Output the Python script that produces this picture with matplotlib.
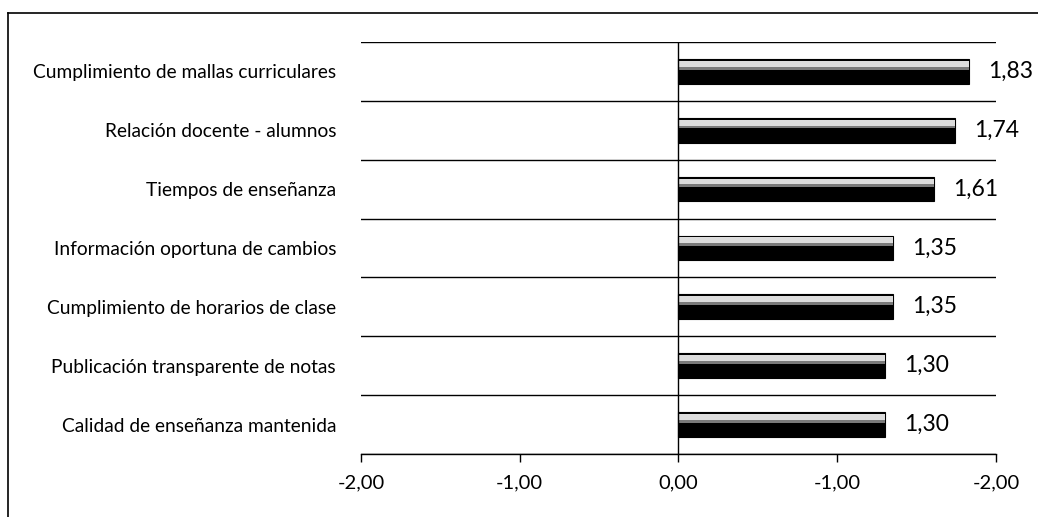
import matplotlib
matplotlib.use("Agg")
import matplotlib.pyplot as plt
import numpy as np

plt.rcParams['font.family'] = ['Lato', 'DejaVu Sans']

# datos (de abajo hacia arriba)
categorias = ["Calidad de enseñanza mantenida",
              "Publicación transparente de notas",
              "Cumplimiento de horarios de clase",
              "Información oportuna de cambios",
              "Tiempos de enseñanza",
              "Relación docente - alumnos",
              "Cumplimiento de mallas curriculares"]
valores = [1.30, 1.30, 1.35, 1.35, 1.61, 1.74, 1.83]
ticks_x = [-2, -1, 0, 1, 2]
ticks_txt = ["-2,00", "-1,00", "0,00", "-1,00", "-2,00"]

fig = plt.figure(figsize=(10.38, 5.17), dpi=100)
ax = fig.add_axes([0.3478, 0.1219, 0.9595 - 0.3478, 0.9188 - 0.1219])

y = np.arange(len(categorias))
alto = 0.42

# barra negra + brillo claro arriba (degradado simple)
ax.barh(y, valores, height=alto, color='black', edgecolor='black', linewidth=0.8, zorder=3)
ax.barh(y + alto / 2 - 0.08, valores, height=0.10, color='#dcdcdc', edgecolor='none', zorder=4)
ax.barh(y + alto / 2 - 0.155, valores, height=0.05, color='#7a7a7a', edgecolor='none', zorder=4)
ax.barh(y + alto / 2 - 0.015, valores, height=0.03, color='black', edgecolor='none', zorder=5)

for yi, v in zip(y, valores):
    ax.annotate("{:.2f}".format(v).replace('.', ','), (v, yi), xytext=(14, 0),
                textcoords='offset points', ha='left', va='center', fontsize=16.5)

# lineas horizontales entre categorias
for b in np.arange(-0.5, len(categorias), 1):
    ax.axhline(b, color='black', linewidth=1.0, zorder=1)

ax.set_xlim(-2, 2)
ax.set_ylim(-0.5, len(categorias) - 0.5)
ax.set_xticks(ticks_x)
ax.set_xticklabels(ticks_txt, fontsize=14.5)
ax.tick_params(axis='x', length=6, width=1, pad=9, color='black')

ax.set_yticks(y)
ax.set_yticklabels(categorias, fontsize=13.8)
ax.tick_params(axis='y', length=0, pad=18)

for s in ['top', 'right', 'left']:
    ax.spines[s].set_visible(False)
ax.spines['bottom'].set_linewidth(1.0)
ax.axvline(0, color='black', linewidth=1.0, zorder=6)

# marco de la figura (solo arriba e izquierda visibles)
fig.add_artist(plt.Line2D([8 / 1038, 1.0], [1 - 13 / 517, 1 - 13 / 517], color='black', linewidth=1.2))
fig.add_artist(plt.Line2D([8 / 1038, 8 / 1038], [0, 1 - 13 / 517], color='black', linewidth=1.2))

fig.savefig('out.png', dpi=100, facecolor='white')
